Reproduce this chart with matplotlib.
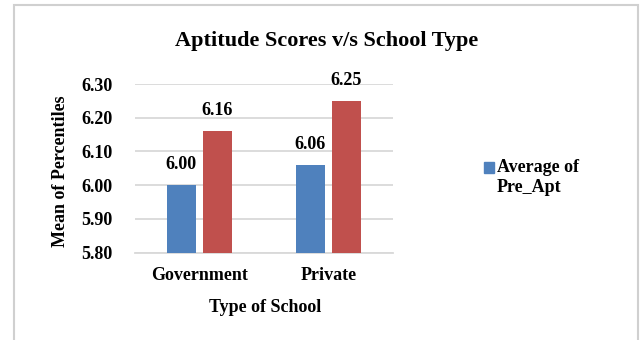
import numpy as np
import matplotlib
matplotlib.use('Agg')
import matplotlib.pyplot as plt
import matplotlib.patches as mpatches
from matplotlib.legend_handler import HandlerPatch

plt.rcParams['font.family'] = ['Liberation Serif', 'DejaVu Serif']
plt.rcParams['font.weight'] = 'bold'

schools = ['Government', 'Private']
pre_apt = [6.00, 6.06]
post_apt = [6.16, 6.25]
yticks = [5.80, 5.90, 6.00, 6.10, 6.20, 6.30]

blue = '#4F81BD'
red = '#C0504D'
grid = '#D9D9D9'

fig = plt.figure(figsize=(6.41, 3.40), dpi=100)
ax = fig.add_axes([0.2106, 0.2568, 0.4024, 0.4961])

x = np.arange(len(schools))
w = 0.22
b1 = ax.bar(x - 0.14, pre_apt, w, color=blue, zorder=3)
b2 = ax.bar(x + 0.14, post_apt, w, color=red, zorder=3)

for bars, vals in [(b1, pre_apt), (b2, post_apt)]:
    for r, v in zip(bars, vals):
        ax.annotate('%.2f' % v, (r.get_x() + r.get_width() / 2, v),
                    xytext=(0, 15), textcoords='offset points',
                    ha='center', va='center', fontsize=13, fontweight='bold')

ax.set_xlim(-0.5, 1.5)
ax.set_ylim(5.80, 6.30)
ax.set_yticks(yticks)
ax.set_yticklabels(['%.2f' % t for t in yticks])
ax.set_xticks(x)
ax.set_xticklabels(schools)
ax.tick_params(axis='y', length=0, pad=16, labelsize=13)
ax.tick_params(axis='x', length=0, pad=10, labelsize=13)
ax.yaxis.grid(True, color=grid, linewidth=1.3, zorder=0)
ax.set_axisbelow(True)
for s in ['top', 'right', 'left']:
    ax.spines[s].set_visible(False)
ax.spines['bottom'].set_color(grid)
ax.spines['bottom'].set_linewidth(1.3)

ax.set_ylabel('Mean of Percentiles', fontsize=13, fontweight='bold')
ax.yaxis.label.set_va('center')
ax.yaxis.set_label_coords(-0.29, 0.485)
ax.set_xlabel('Type of School', fontsize=13, fontweight='bold')
ax.xaxis.label.set_va('center')
ax.xaxis.set_label_coords(0.505, -0.322)

fig.text(0.509, 0.88, 'Aptitude Scores v/s School Type',
         ha='center', va='center', fontsize=16, fontweight='bold')


# legend square sits next to the first line of the wrapped label
def top_square(legend, orig_handle, xdescent, ydescent, width, height, fontsize):
    return mpatches.Rectangle((-xdescent, -ydescent + 0.55 * fontsize), width, height)


key = mpatches.Patch(color=blue, label='Average of\nPre_Apt')
fig.legend(handles=[key], loc='center left', bbox_to_anchor=(0.73, 0.478),
           frameon=False, handlelength=0.55, handleheight=0.55,
           handletextpad=0.15, prop={'weight': 'bold', 'size': 13},
           handler_map={mpatches.Patch: HandlerPatch(patch_func=top_square)})

fig.patches.append(mpatches.Rectangle((14 / 641, -0.1), 624 / 641, 1.1 - 5 / 340,
                                      transform=fig.transFigure, fill=False,
                                      edgecolor='#D0D0D0', linewidth=1.5))

fig.savefig('out.png', dpi=100)
